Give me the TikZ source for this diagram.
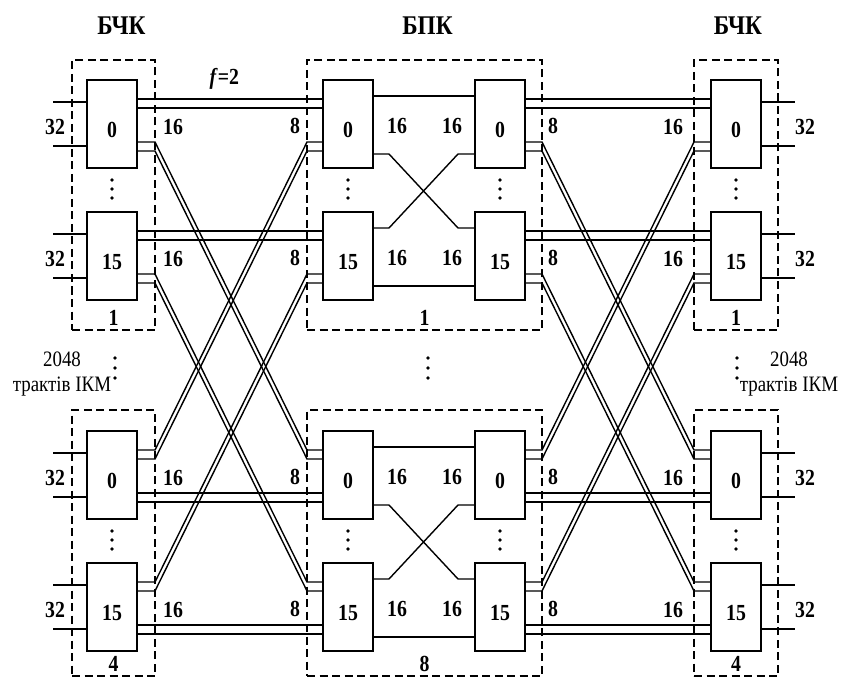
\documentclass[tikz,border=0pt]{standalone}
\usepackage{fontspec}
\setmainfont{Liberation Serif}[FakeStretch=0.86]
\usepackage{tikz}
\usetikzlibrary{calc,positioning}
\tikzset{
  swbox/.style={draw, line width=1.4pt, minimum width=50pt, minimum height=88pt, inner sep=0pt, outer sep=0pt, text height=27pt, text depth=0pt, font=\fontsize{23}{25}\selectfont\bfseries},
  blockframe/.style={draw, line width=2.8pt, dash pattern=on 8pt off 4.5pt, inner sep=0pt, outer sep=0pt},
  trunk/.style={line width=1.4pt},
  numlabel/.style={font=\fontsize{23}{25}\selectfont\bfseries, inner sep=0pt},
  titlelabel/.style={font=\fontsize{27}{30}\selectfont\bfseries, inner sep=0pt},
  notelabel/.style={font=\fontsize{22}{25}\selectfont, align=center, inner sep=0pt}
}

\begin{document}
\begin{tikzpicture}[x=1pt, y=-1pt]
  \useasboundingbox (0,0) rectangle (841,679);

  \node[blockframe, minimum width=83pt, minimum height=270pt] (FL1) at (113.5,195) {};
  \node[blockframe, minimum width=83pt, minimum height=266pt] (FL4) at (113.5,543) {};
  \node[blockframe, minimum width=235pt, minimum height=270pt] (FP1) at (424.5,195) {};
  \node[blockframe, minimum width=235pt, minimum height=266pt] (FP8) at (424.5,543) {};
  \node[blockframe, minimum width=84pt, minimum height=270pt] (FR1) at (736,195) {};
  \node[blockframe, minimum width=84pt, minimum height=266pt] (FR4) at (736,543) {};

  \node[swbox] (L1a) at (112,124) {0};
  \node[swbox] (L1b) at (112,256) {15};
  \node[swbox] (L4a) at (112,475) {0};
  \node[swbox] (L4b) at (112,607) {15};
  \node[swbox] (P1a) at (348,124) {0};
  \node[swbox] (P1b) at (348,256) {15};
  \node[swbox] (P8a) at (348,475) {0};
  \node[swbox] (P8b) at (348,607) {15};
  \node[swbox] (Q1a) at (500,124) {0};
  \node[swbox] (Q1b) at (500,256) {15};
  \node[swbox] (Q8a) at (500,475) {0};
  \node[swbox] (Q8b) at (500,607) {15};
  \node[swbox] (R1a) at (736,124) {0};
  \node[swbox] (R1b) at (736,256) {15};
  \node[swbox] (R4a) at (736,475) {0};
  \node[swbox] (R4b) at (736,607) {15};

  \foreach \b in {L1a,L1b,L4a,L4b,P1a,P1b,P8a,P8b,Q1a,Q1b,Q8a,Q8b,R1a,R1b,R4a,R4b}
    \foreach \k/\off in {1/19,2/28,3/62,4/71,5/22,6/66,7/16,8/74} {
      \coordinate (\b-w\k) at ([yshift=-\off*1pt]\b.north west);
      \coordinate (\b-e\k) at ([yshift=-\off*1pt]\b.north east);
    }

  \foreach \b in {L1a,L1b,L4a,L4b} {
    \draw[trunk] (\b-w5) -- ++(-34,0);
    \draw[trunk] (\b-w6) -- ++(-34,0);
  }
  \foreach \b in {R1a,R1b,R4a,R4b} {
    \draw[trunk] (\b-e5) -- ++(34,0);
    \draw[trunk] (\b-e6) -- ++(34,0);
  }

  \foreach \s/\t/\k in {L1a/P1a/1,L1a/P1a/2,L1b/P1b/1,L1b/P1b/2,L4a/P8a/3,L4a/P8a/4,L4b/P8b/3,L4b/P8b/4,
                        Q1a/R1a/1,Q1a/R1a/2,Q1b/R1b/1,Q1b/R1b/2,Q8a/R4a/3,Q8a/R4a/4,Q8b/R4b/3,Q8b/R4b/4}
    \draw[trunk] (\s-e\k) -- (\t-w\k);

  \foreach \s/\t/\i/\j in {L1a/P8a/3/1,L1a/P8a/4/2,L1b/P8b/3/1,L1b/P8b/4/2,
                           L4a/P1a/1/3,L4a/P1a/2/4,L4b/P1b/1/3,L4b/P1b/2/4}
    \draw[trunk] (\s-e\i) -- (FL1.east |- \s-e\i) -- (FP1.west |- \t-w\j) -- (\t-w\j);
  \foreach \s/\t/\i/\j in {Q1a/R4a/3/1,Q1a/R4a/4/2,Q1b/R4b/3/1,Q1b/R4b/4/2,
                           Q8a/R1a/1/3,Q8a/R1a/2/4,Q8b/R1b/1/3,Q8b/R1b/2/4}
    \draw[trunk] (\s-e\i) -- (FP1.east |- \s-e\i) -- (FR1.west |- \t-w\j) -- (\t-w\j);

  \foreach \m in {1,8} {
    \draw[trunk] (P\m a-e7) -- (Q\m a-w7);
    \draw[trunk] (P\m b-e8) -- (Q\m b-w8);
    \draw[trunk] (P\m a-e8) -- ++(16,0) -- ($(Q\m b-w7)+(-17,0)$) -- (Q\m b-w7);
    \draw[trunk] (P\m b-e7) -- ++(16,0) -- ($(Q\m a-w8)+(-17,0)$) -- (Q\m a-w8);
  }

  \foreach \bl/\bp/\bq/\br in {L1a/P1a/Q1a/R1a,L1b/P1b/Q1b/R1b,L4a/P8a/Q8a/R4a,L4b/P8b/Q8b/R4b} {
    \node[numlabel] (\bl-in) at ([xshift=-57pt,yshift=-3pt]\bl.center) {32};
    \node[numlabel] (\bl-out) at ([xshift=61pt,yshift=-3pt]\bl.center) {16};
    \node[numlabel] (\bp-in) at ([xshift=-53pt,yshift=-2pt]\bp.center) {8};
    \node[numlabel] (\bp-out) at ([xshift=49pt,yshift=-2pt]\bp.center) {16};
    \node[numlabel] (\bq-in) at ([xshift=-48pt,yshift=-2pt]\bq.center) {16};
    \node[numlabel] (\bq-out) at ([xshift=53pt,yshift=-2pt]\bq.center) {8};
    \node[numlabel] (\br-in) at ([xshift=-63pt,yshift=-3pt]\br.center) {16};
    \node[numlabel] (\br-out) at ([xshift=69pt,yshift=-3pt]\br.center) {32};
  }

  \foreach \b in {L1a,L4a,P1a,P8a,Q1a,Q8a,R1a,R4a}
    \foreach \d in {12,21,30}
      \fill ([yshift=-\d*1pt]\b.south) circle (1.9pt);
  \foreach \x in {115,428,737}
    \foreach \y in {358,368,378}
      \fill (\x,\y) circle (1.9pt);

  \node[numlabel, above=4pt of FL1.south] (FL1-num) {1};
  \node[numlabel, above=4pt of FL4.south] (FL4-num) {4};
  \node[numlabel, above=4pt of FP1.south] (FP1-num) {1};
  \node[numlabel, above=4pt of FP8.south] (FP8-num) {8};
  \node[numlabel, above=4pt of FR1.south] (FR1-num) {1};
  \node[numlabel, above=4pt of FR4.south] (FR4-num) {4};

  \node[titlelabel, above=25pt of FL1, xshift=8pt] (tL) {БЧК};
  \node[titlelabel, above=25pt of FP1, xshift=3pt] (tM) {БПК};
  \node[titlelabel, above=25pt of FR1, xshift=2pt] (tR) {БЧК};

  \path (L1a-e1) -- node[numlabel, pos=0.47, above=9pt] (fval) {\textit{f}=2} (P1a-w1);

  \node[notelabel] (nL) at (62,374) {2048\\трактів ІКМ};
  \node[notelabel] (nR) at (789,374) {2048\\трактів ІКМ};
\end{tikzpicture}
\end{document}
